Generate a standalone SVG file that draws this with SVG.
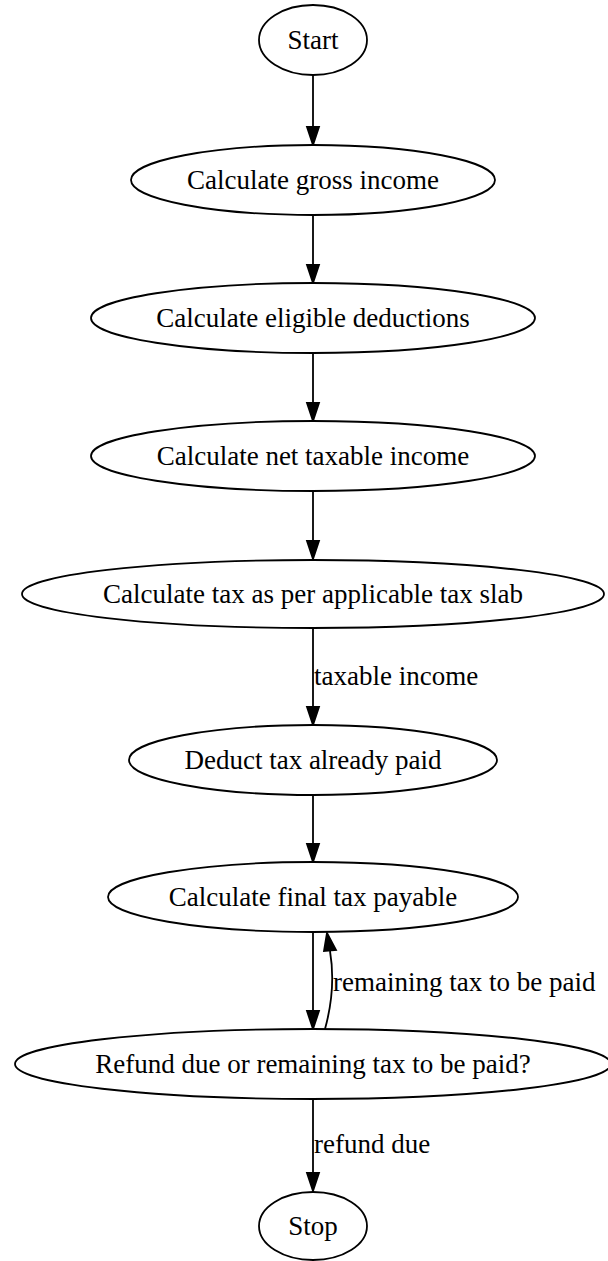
<svg xmlns="http://www.w3.org/2000/svg" width="608" height="1261" viewBox="0 0 608 1261">
<style>
.node ellipse{fill:#fff;stroke:#000;stroke-width:1.8}
text{font-family:"Liberation Serif","Times New Roman",serif;font-size:27px;fill:#000}
.node text{text-anchor:middle}
.edge path{fill:none;stroke:#000;stroke-width:1.8}
.edge polygon{fill:#000;stroke:#000;stroke-width:1.8}
</style>
<rect width="608" height="1261" fill="#fff"/>
<g id="edges">
<g class="edge"><path d="M313,75 V128"/><polygon points="313,145 307,127 319,127"/></g>
<g class="edge"><path d="M313,215 V266"/><polygon points="313,283 307,265 319,265"/></g>
<g class="edge"><path d="M313,353 V404"/><polygon points="313,421 307,403 319,403"/></g>
<g class="edge"><path d="M313,491 V542"/><polygon points="313,559 307,541 319,541"/></g>
<g class="edge"><path d="M313,628 V708"/><polygon points="313,725 307,707 319,707"/><text x="314" y="685">taxable income</text></g>
<g class="edge"><path d="M313,795 V845"/><polygon points="313,862 307,844 319,844"/></g>
<g class="edge"><path d="M313,932 V1012"/><polygon points="313,1029 307,1011 319,1011"/></g>
<g class="edge"><path d="M325,1029 C333,1000 334,975 330,951"/><polygon points="327,933 324,951 336,950"/><text x="333" y="991">remaining tax to be paid</text></g>
<g class="edge"><path d="M313,1099 V1174"/><polygon points="313,1191 307,1173 319,1173"/><text x="314" y="1153">refund due</text></g>
</g>
<g id="start" class="node"><ellipse cx="313" cy="40" rx="54" ry="35"/><text x="313" y="49">Start</text></g>
<g id="gross" class="node"><ellipse cx="313" cy="180" rx="182" ry="35"/><text x="313" y="189">Calculate gross income</text></g>
<g id="deductions" class="node"><ellipse cx="313" cy="318" rx="222" ry="35"/><text x="313" y="327">Calculate eligible deductions</text></g>
<g id="net" class="node"><ellipse cx="313" cy="456" rx="222" ry="35"/><text x="313" y="465">Calculate net taxable income</text></g>
<g id="slab" class="node"><ellipse cx="313" cy="594" rx="291" ry="34"/><text x="313" y="603">Calculate tax as per applicable tax slab</text></g>
<g id="deduct" class="node"><ellipse cx="313" cy="760" rx="184" ry="35"/><text x="313" y="769">Deduct tax already paid</text></g>
<g id="final" class="node"><ellipse cx="313" cy="897" rx="205" ry="35"/><text x="313" y="906">Calculate final tax payable</text></g>
<g id="decision" class="node"><ellipse cx="313" cy="1064" rx="298" ry="35"/><text x="313" y="1073">Refund due or remaining tax to be paid?</text></g>
<g id="stop" class="node"><ellipse cx="313" cy="1226" rx="54" ry="34"/><text x="313" y="1235">Stop</text></g>
</svg>
